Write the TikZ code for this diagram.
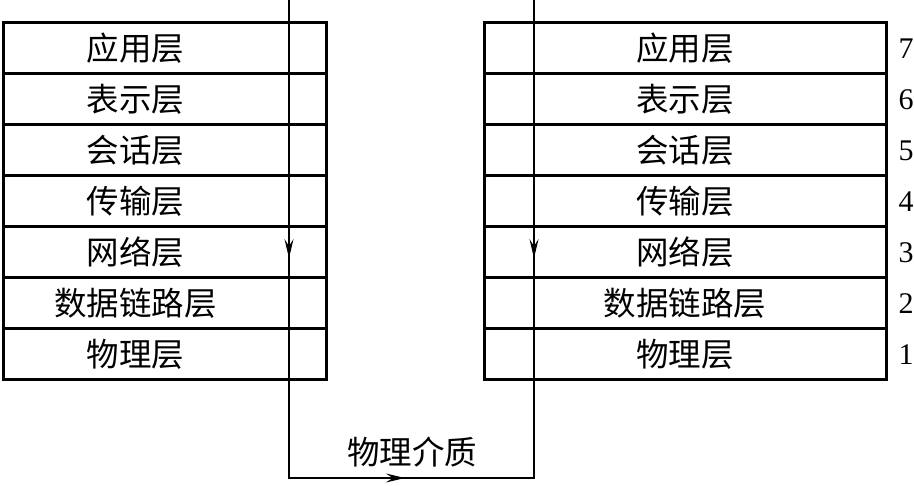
\documentclass[tikz,border=0pt]{standalone}
\usepackage{fontspec}
\setmainfont{Liberation Serif}
\newfontfamily\cjk{Noto Sans CJK SC}
\usetikzlibrary{arrows.meta, positioning, calc}

\begin{document}
\begin{tikzpicture}[x=1pt, y=-1pt, font=\fontsize{30}{32}\selectfont,
    lcell/.style={draw, line width=3pt, minimum width=323pt, minimum height=51pt, inner sep=0pt},
    rcell/.style={lcell, minimum width=402pt},
    layer/.style={font=\cjk\fontsize{32.5}{34}\selectfont, inner sep=0pt},
    num/.style={inner sep=0pt},
    sig/.style={line width=1.6pt},
    tip/.style={-{Stealth[length=19pt, width=9pt, inset=7pt]}}]
  \fill[white] (0,0) rectangle (914,486);
  \useasboundingbox (0,0) rectangle (914,486);
  % the two stacks of seven layers
  \foreach \k/\n/\t in {0/7/应用层, 1/6/表示层, 2/5/会话层, 3/4/传输层, 4/3/网络层, 5/2/数据链路层, 6/1/物理层} {
    \node[lcell] (l\n) at (164.5, 48.5+51*\k) {};
    \node[layer] (lt\n) at ([xshift=-29pt]l\n.center) {\t};
    \node[rcell] (r\n) at (685, 48.5+51*\k) {};
    \node[layer] (rt\n) at (r\n.center) {\t};
    \node[num, right=11pt of r\n.east] (n\n) {\n};
  }
  % path of the data
  \coordinate (lin) at (289,0);
  \coordinate (lbot) at (289,478);
  \coordinate (rbot) at (534,478);
  \coordinate (rin) at (534,0);
  \draw[sig] (lin) -- (lbot) -- (rbot) -- (rin);
  \draw[sig, tip] (lin) -- ($(lin)!0.54!(lbot)$);
  \draw[sig, tip] (rin) -- ($(rin)!0.54!(rbot)$);
  \draw[sig, tip] (lbot) -- ($(lbot)!0.473!(rbot)$);
  \node[layer] (medium) at (412,452) {物理介质};
\end{tikzpicture}
\end{document}
